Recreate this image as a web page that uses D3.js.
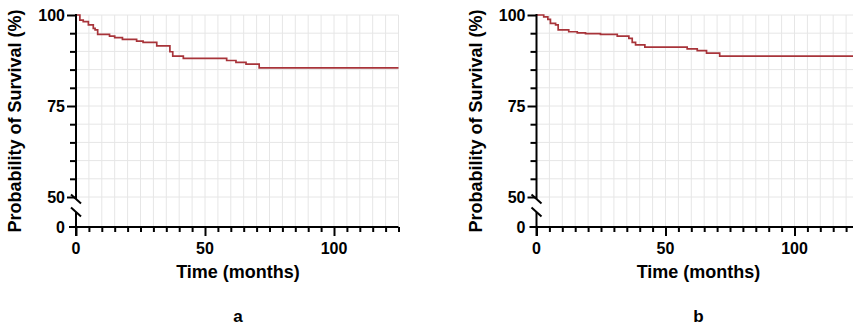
<!DOCTYPE html>
<html>
<head>
<meta charset="utf-8">
<script src="https://cdn.jsdelivr.net/npm/d3@7"></script>
<style>
    body { margin: 0; background: #fff; }
    svg { display: block; font-family: "Liberation Sans", Arial, sans-serif; font-weight: bold; }
</style>
</head>
<body>
<svg id="chart" width="853" height="327"></svg>
<script>
// survival curve a
var timesA = [0, 1.5, 2.8, 4.8, 6.7, 7.4, 8.4, 13, 15, 18, 23.5, 26, 31.3, 36.4, 37.5, 41.6, 58.4, 62, 65.9, 71, 125];
var survA = [100, 98.6, 98.2, 97.3, 96.3, 95.9, 94.7, 94.2, 93.8, 93.3, 92.8, 92.5, 91.5, 89.9, 88.7, 88.1, 87.5, 87.0, 86.5, 85.5, 85.5];

// survival curve b
var timesB = [0, 2.8, 4.4, 5.4, 7.4, 8.4, 12.5, 15.8, 19, 24.8, 31.3, 35.8, 37.1, 38.4, 42, 58.4, 62.3, 65.9, 71, 125];
var survB = [100, 99.5, 98.8, 97.7, 97.3, 95.9, 95.4, 95.1, 94.9, 94.7, 94.2, 93.6, 92.5, 91.8, 91.2, 90.7, 90.2, 89.5, 88.7, 88.7];

var xTicks = [0, 50, 100];
var yTicks = [50, 75, 100];
var panelLabels = ['a', 'b'];

var svg = d3.select('#chart'),
    lineColor = '#a8343a',
    gridColor = '#e6e6e6';

function drawPanel(x0, times, surv, label) {
    var g = svg.append('g'),
        xMax = 125,
        x = d3.scaleLinear().domain([0, xMax]).range([x0, x0 + xMax * 2.58]),
        yTop = d3.scaleLinear().domain([50, 100]).range([197, 15]),
        yBottom = 227,
        breakUp = 199, breakLow = 212;

    // grid
    g.selectAll('.vgrid').data(d3.range(5, xMax + 1, 5)).enter().append('line')
        .attr('x1', function (d) { return x(d); }).attr('x2', function (d) { return x(d); })
        .attr('y1', yTop(100)).attr('y2', yBottom)
        .attr('stroke', gridColor).attr('stroke-width', 1);
    g.selectAll('.hgrid').data(d3.range(50, 101, 5)).enter().append('line')
        .attr('x1', x(0)).attr('x2', x(xMax))
        .attr('y1', function (d) { return yTop(d); }).attr('y2', function (d) { return yTop(d); })
        .attr('stroke', gridColor).attr('stroke-width', 1);

    // curve
    var line = d3.line()
        .x(function (d, i) { return x(times[i]); })
        .y(function (d) { return yTop(d); })
        .curve(d3.curveStepAfter);
    g.append('path').datum(surv)
        .attr('d', line)
        .attr('fill', 'none')
        .attr('stroke', lineColor)
        .attr('stroke-width', 1.7);

    // x axis
    var xAxis = d3.axisBottom(x).tickValues(d3.range(0, xMax + 1, 5)).tickSize(5).tickFormat('');
    var xa = g.append('g').attr('transform', 'translate(0,' + yBottom + ')').call(xAxis);
    xa.selectAll('.tick line').attr('stroke-width', 2)
        .attr('y2', function (d) { return xTicks.indexOf(d) >= 0 ? 9 : 5; });
    xa.select('.domain').remove();
    g.append('line').attr('x1', x(0) - 7).attr('x2', x(xMax))
        .attr('y1', yBottom).attr('y2', yBottom)
        .attr('stroke', '#000').attr('stroke-width', 2);
    g.selectAll('.xlab').data(xTicks).enter().append('text')
        .attr('x', function (d) { return x(d); })
        .attr('y', 254)
        .attr('text-anchor', 'middle')
        .attr('font-size', 16)
        .text(function (d) { return d; });

    // y axis, upper part
    var yAxis = d3.axisLeft(yTop).tickValues(d3.range(50, 101, 5)).tickSize(6).tickFormat('');
    var ya = g.append('g').attr('transform', 'translate(' + x(0) + ',0)').call(yAxis);
    ya.select('.domain').remove();
    ya.selectAll('.tick line').attr('stroke-width', 2)
        .attr('x2', function (d) { return yTicks.indexOf(d) >= 0 ? -9 : -6; });
    g.append('line').attr('x1', x(0)).attr('x2', x(0))
        .attr('y1', yTop(100) - 1).attr('y2', breakUp)
        .attr('stroke', '#000').attr('stroke-width', 2);
    // lower part
    g.append('line').attr('x1', x(0)).attr('x2', x(0))
        .attr('y1', breakLow).attr('y2', yBottom + 9)
        .attr('stroke', '#000').attr('stroke-width', 2);
    // break marks
    [breakUp, breakLow].forEach(function (by) {
        g.append('line').attr('x1', x(0) - 5).attr('x2', x(0) + 5)
            .attr('y1', by - 4.5).attr('y2', by + 4.5)
            .attr('stroke', '#000').attr('stroke-width', 2);
    });
    g.selectAll('.ylab').data(yTicks).enter().append('text')
        .attr('x', x(0) - 11)
        .attr('y', function (d) { return yTop(d); })
        .attr('dy', '0.36em')
        .attr('text-anchor', 'end')
        .attr('font-size', 16)
        .text(function (d) { return d; });
    g.append('text')
        .attr('x', x(0) - 11).attr('y', yBottom).attr('dy', '0.36em')
        .attr('text-anchor', 'end').attr('font-size', 16)
        .text('0');

    // titles
    g.append('text')
        .attr('x', x0 + 162).attr('y', 278)
        .attr('text-anchor', 'middle').attr('font-size', 18)
        .text('Time (months)');
    g.append('text')
        .attr('transform', 'translate(' + (x0 - 55) + ',121) rotate(-90)')
        .attr('text-anchor', 'middle').attr('font-size', 18)
        .text('Probability of Survival (%)');
    g.append('text')
        .attr('x', x0 + 162).attr('y', 322)
        .attr('text-anchor', 'middle').attr('font-size', 17)
        .text(label);
}

drawPanel(76, timesA, survA, panelLabels[0]);
drawPanel(536.5, timesB, survB, panelLabels[1]);
</script>
</body>
</html>
